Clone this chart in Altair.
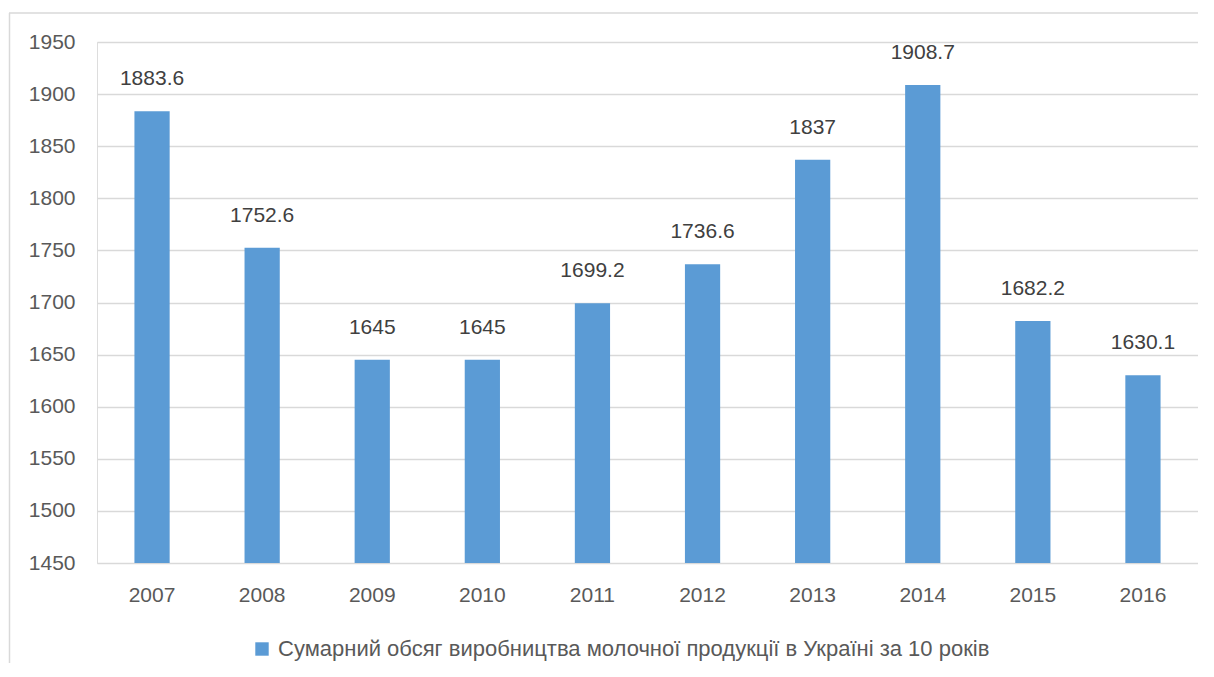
import altair as alt
import pandas as pd

years = ["2007", "2008", "2009", "2010", "2011", "2012", "2013", "2014", "2015", "2016"]
values = [1883.6, 1752.6, 1645, 1645, 1699.2, 1736.6, 1837, 1908.7, 1682.2, 1630.1]
series_name = "Сумарний обсяг виробництва молочної продукції в Україні за 10 років"
y_ticks = [1450, 1500, 1550, 1600, 1650, 1700, 1750, 1800, 1850, 1900, 1950]

df = pd.DataFrame({"year": years, "value": values, "series": [series_name] * len(years)})

FONT = "Liberation Sans"
W, H = 1101, 521

x_enc = alt.X("year:N", sort=years, title=None,
              scale=alt.Scale(paddingInner=0.68, paddingOuter=0.34),
              axis=alt.Axis(labelAngle=0, ticks=False, domain=False, labelPadding=21,
                            labelFontSize=21, labelColor="#595959", labelFont=FONT))
y_scale = alt.Scale(domain=[1450, 1950], zero=False, nice=False)

bars = alt.Chart(df).mark_bar(color="#5B9BD5").encode(
    x=x_enc,
    y=alt.Y("value:Q", scale=y_scale, title=None,
            axis=alt.Axis(values=y_ticks, format="d", ticks=False, domain=False, labelPadding=22,
                          labelFontSize=21, labelColor="#595959", labelFont=FONT,
                          gridColor="#D9D9D9", gridWidth=1.5)),
    y2=alt.datum(1450),
    color=alt.Color("series:N", scale=alt.Scale(range=["#5B9BD5"]),
                    legend=alt.Legend(title=None, orient="none", legendX=154, legendY=596,
                                      symbolType="square", symbolSize=180, symbolStrokeWidth=0,
                                      symbolOffset=0, labelOffset=5,
                                      labelFontSize=22, labelColor="#595959", labelFont=FONT,
                                      labelLimit=0)),
)

labels = alt.Chart(df).mark_text(baseline="bottom", dy=-22, fontSize=21, color="#404040", font=FONT).encode(
    x=alt.X("year:N", sort=years),
    y=alt.Y("value:Q", scale=y_scale),
    text=alt.Text("value:Q", format="~r"),
)

frame_top = alt.Chart(df.head(1)).mark_rule(color="#D9D9D9", strokeWidth=1.5, clip=False).encode(
    x=alt.value(-88), x2=alt.value(1109), y=alt.value(-29)
)
frame_left = alt.Chart(df.head(1)).mark_rule(color="#D9D9D9", strokeWidth=1.5, clip=False).encode(
    x=alt.value(-87.5), y=alt.value(-29), y2=alt.value(640)
)

chart = alt.layer(bars, labels, frame_top, frame_left).properties(
    width=W, height=H,
    autosize=alt.AutoSizeParams(type="none"),
    padding={"left": 89, "top": 34, "right": 0, "bottom": 100},
).configure_view(stroke=None).configure(background="white")

chart.save("out.html", embed_options={"renderer": "svg", "actions": False})
